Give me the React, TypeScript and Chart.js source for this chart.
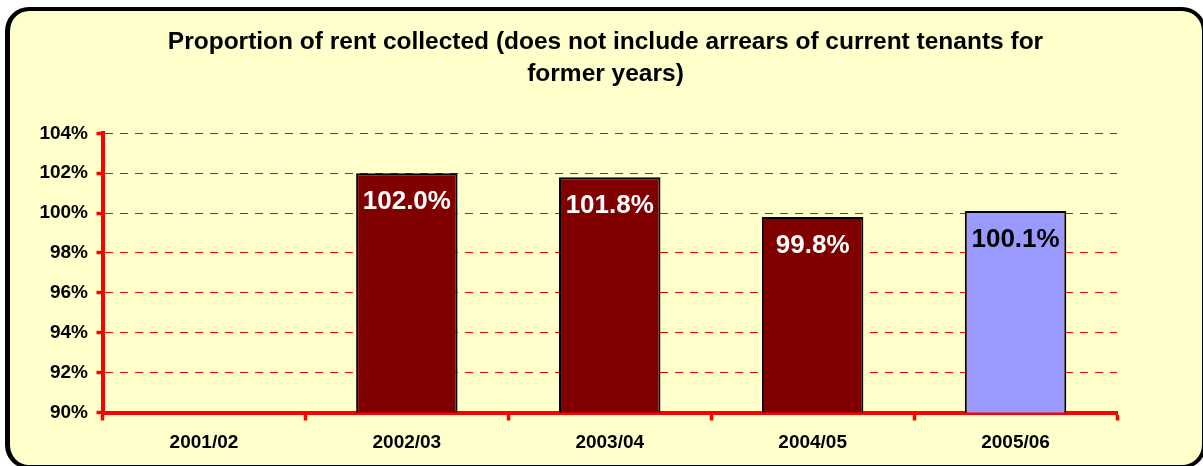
import React, { useEffect, useRef } from "react";
import { Chart, registerables } from "chart.js";

Chart.register(...registerables);

const titleLines = [
  "Proportion of rent collected (does not include arrears of current tenants for",
  "former years)",
];
const categories = ["2001/02", "2002/03", "2003/04", "2004/05", "2005/06"];
const rentCollected: (number | null)[] = [null, 102.0, 101.8, 99.8, 100.1];
const barColors = ["#800000", "#800000", "#800000", "#800000", "#9999FF"];
const labelColors = ["#FFFFFF", "#FFFFFF", "#FFFFFF", "#FFFFFF", "#000000"];
const yMin = 90;
const yMax = 104;
const yStep = 2;

const FONT = "'Liberation Sans', Arial, Helvetica, sans-serif";

const barLabelPlugin = {
  id: "barLabels",
  afterDatasetsDraw(chart: any) {
    const ctx = chart.ctx;
    const meta = chart.getDatasetMeta(0);
    ctx.save();
    ctx.font = `bold 26px ${FONT}`;
    ctx.textAlign = "center";
    ctx.textBaseline = "alphabetic";
    meta.data.forEach((bar: any, i: number) => {
      const v = rentCollected[i];
      if (v == null) return;
      ctx.fillStyle = labelColors[i];
      ctx.fillText(v.toFixed(1) + "%", bar.x, bar.y + 36);
    });
    ctx.restore();
  },
};

export default function App() {
  const ref = useRef<HTMLCanvasElement>(null);

  useEffect(() => {
    if (!ref.current) return;
    const chart = new Chart(ref.current, {
      type: "bar",
      data: {
        labels: categories,
        datasets: [
          {
            data: rentCollected as any,
            backgroundColor: barColors,
            borderColor: "#000000",
            borderWidth: 2,
            categoryPercentage: 1,
            barPercentage: 0.5,
          },
        ],
      },
      options: {
        responsive: false,
        animation: false,
        devicePixelRatio: 1,
        layout: { padding: { left: 0, right: 0, top: 0, bottom: 0 } },
        plugins: {
          legend: { display: false },
          tooltip: { enabled: false },
          title: {
            display: true,
            text: titleLines,
            color: "#000000",
            font: { family: FONT, size: 24.5, weight: "bold", lineHeight: 1.3 },
            padding: { top: 26, bottom: 43.6 },
          },
        },
        scales: {
          x: {
            afterFit: (s: any) => {
              s.height = 53.5;
            },
            grid: {
              display: true,
              offset: true,
              drawOnChartArea: false,
              drawTicks: true,
              tickLength: 8,
              tickColor: "#FF0000",
              tickWidth: 3.5,
              color: "#FF0000",
            },
            border: { display: true, color: "#FF0000", width: 4 },
            ticks: {
              color: "#000000",
              padding: 11,
              font: { family: FONT, size: 19, weight: "bold" },
            },
          },
          y: {
            min: yMin,
            max: yMax,
            afterFit: (s: any) => {
              s.width = 102.5;
            },
            grid: {
              display: true,
              color: "#FF0000",
              lineWidth: 1,
              drawTicks: true,
              tickLength: 6,
              tickColor: "#FF0000",
              tickWidth: 3.5,
              tickBorderDash: [],
            },
            border: { display: true, color: "#FF0000", width: 4, dash: [8, 7] },
            ticks: {
              stepSize: yStep,
              color: "#000000",
              padding: 8.5,
              font: { family: FONT, size: 19, weight: "bold" },
              callback: (v: any) => `${v}%`,
            },
          },
          ySpacer: {
            type: "linear",
            position: "right",
            display: true,
            afterFit: (s: any) => {
              s.width = 94;
            },
            grid: { display: false, drawTicks: false },
            border: { display: false },
            ticks: { display: false },
          },
        },
      },
      plugins: [barLabelPlugin],
    });
    return () => chart.destroy();
  }, []);

  return (
    <div style={{ position: "absolute", left: 0, top: 0, width: 1203, height: 466, overflow: "hidden", background: "#FFFFFF" }}>
      <div
        style={{
          position: "absolute",
          left: 5,
          top: 7,
          width: 1201,
          height: 462,
          boxSizing: "border-box",
          border: "4px solid #000000",
          borderLeftWidth: 5,
          borderRadius: 24,
          background: "#FFFFCC",
        }}
      />
      <canvas ref={ref} width={1211} height={466} style={{ position: "absolute", left: 0, top: 0, display: "block" }} />
    </div>
  );
}
